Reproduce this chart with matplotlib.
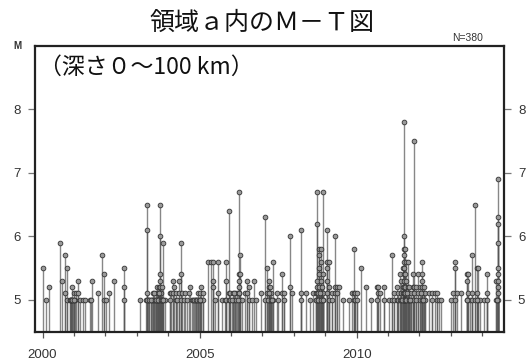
import matplotlib
matplotlib.use("Agg")
import matplotlib.pyplot as plt
import numpy as np

# ---- data: (decimal year, list of magnitudes on that stem) ----
stem_times = [
 2000.02, 2000.10, 2000.20, 2000.56, 2000.62, 2000.70, 2000.77, 2000.87, 2000.90, 2000.93,
 2000.96, 2000.99, 2001.03, 2001.06, 2001.13, 2001.20, 2001.30, 2001.36, 2001.50, 2001.54,
 2001.59, 2001.75, 2001.88, 2001.97, 2002.02, 2002.10, 2002.29, 2002.60, 2003.10, 2003.30,
 2003.33, 2003.36, 2003.40, 2003.44, 2003.48, 2003.52, 2003.56, 2003.60, 2003.63, 2003.66,
 2003.69, 2003.72, 2003.74, 2003.78, 2003.81, 2003.85, 2003.90, 2004.05, 2004.10, 2004.14,
 2004.18, 2004.24, 2004.28, 2004.33, 2004.40, 2004.45, 2004.50, 2004.55, 2004.60, 2004.65,
 2004.69, 2004.75, 2004.80, 2004.85, 2004.90, 2004.95, 2005.00, 2005.06, 2005.10, 2005.27,
 2005.36, 2005.43, 2005.50, 2005.57, 2005.70, 2005.80, 2005.84, 2005.93, 2005.98, 2006.05,
 2006.12, 2006.20, 2006.24, 2006.28, 2006.35, 2006.43, 2006.50, 2006.58, 2006.66, 2006.74,
 2006.80, 2006.94, 2007.09, 2007.15, 2007.20, 2007.24, 2007.28, 2007.34, 2007.45, 2007.50,
 2007.63, 2007.70, 2007.89, 2007.95, 2008.22, 2008.38, 2008.53, 2008.60, 2008.70, 2008.75,
 2008.80, 2008.85, 2008.90, 2008.94, 2009.06, 2009.12, 2009.20, 2009.31, 2009.36, 2009.45,
 2009.55, 2009.75, 2009.85, 2009.91, 2009.96, 2010.02, 2010.14, 2010.29, 2010.45, 2010.64,
 2010.68, 2010.75, 2010.88, 2011.04, 2011.11, 2011.20, 2011.27, 2011.32, 2011.37, 2011.42,
 2011.47, 2011.52, 2011.55, 2011.58, 2011.62, 2011.67, 2011.73, 2011.78, 2011.83, 2011.90,
 2011.96, 2012.03, 2012.08, 2012.13, 2012.18, 2012.30, 2012.40, 2012.48, 2012.55, 2012.62,
 2012.70, 2013.00, 2013.06, 2013.13, 2013.20, 2013.32, 2013.50, 2013.55, 2013.60, 2013.68,
 2013.77, 2013.82, 2013.87, 2013.93, 2014.06, 2014.16, 2014.42, 2014.50,
 # additional small events in the dense clusters
 2000.88, 2000.92, 2000.95, 2001.01, 2003.31, 2003.38, 2003.46, 2003.54, 2003.58, 2003.62,
 2003.68, 2003.70, 2003.76, 2003.80, 2003.83, 2004.82, 2004.87, 2004.92, 2004.97, 2005.02,
 2006.02, 2006.08, 2006.15, 2006.22, 2006.26, 2007.18, 2007.22, 2007.26, 2007.30, 2008.72,
 2008.77, 2008.78, 2008.82, 2008.87, 2008.92, 2011.44, 2011.50, 2011.53, 2011.56, 2011.60,
 2011.65, 2011.70, 2012.05, 2012.10, 2013.52, 2013.84, 2014.48,
]
stem_mags = [
 [5.5], [5.0], [5.2], [5.9], [5.3], [5.7, 5.1], [5.5, 5.0], [5.0], [5.0, 5.0], [5.2],
 [5.0], [5.0, 5.1], [5.0], [5.1], [5.3, 5.1], [5.0], [5.0], [5.0], [5.0], [5.0],
 [5.3], [5.1], [5.7], [5.4, 5.0], [5.0], [5.1], [5.3], [5.5, 5.2, 5.0], [5.0], [5.0],
 [6.5, 6.1, 5.1], [5.0], [5.0], [5.0], [5.0], [5.0, 5.1], [5.0], [5.0, 5.1], [5.2, 5.0], [5.0, 5.1],
 [5.1, 5.0], [5.2, 5.0], [6.5, 6.0, 5.4, 5.3, 5.2, 5.1], [5.1, 5.0], [5.0, 5.2], [5.9, 5.0], [5.0], [5.0, 5.1], [5.1], [5.3, 5.1],
 [5.2], [5.1, 5.0], [5.0], [5.3, 5.1], [5.9, 5.4, 5.0], [5.1], [5.0], [5.1], [5.0], [5.1],
 [5.2], [5.0], [5.0], [5.0], [5.0], [5.0, 5.1], [5.0, 5.1], [5.2, 5.0], [5.1, 5.0], [5.6],
 [5.6], [5.6, 5.3, 5.2], [5.0], [5.6, 5.1], [5.0], [5.0], [5.6, 5.3, 5.0], [6.4, 5.1, 5.0], [5.1, 5.0], [5.1, 5.0],
 [5.1, 5.0], [5.1], [6.7, 5.4, 5.3, 5.2, 5.1], [5.7, 5.4, 5.0], [5.0], [5.1], [5.3, 5.1], [5.2, 5.0], [5.0], [5.3],
 [5.0], [5.1], [6.3, 5.0], [5.5, 5.1], [5.3, 5.2, 5.1, 5.0], [5.2, 5.0], [5.1, 5.0], [5.6, 5.0], [5.1], [5.0],
 [5.4, 5.1], [5.0, 5.1], [6.0, 5.2], [5.1], [6.1, 5.1, 5.0], [5.1], [5.0], [5.1], [5.0, 5.1], [6.7, 6.2, 5.3, 5.2, 5.1, 5.0],
 [5.8, 5.7, 5.5, 5.4, 5.2, 5.0], [5.8, 5.6, 5.3, 5.1, 5.0], [5.2, 5.1, 5.0], [6.7, 5.4, 5.1, 5.0], [6.1, 5.6, 5.5, 5.3, 5.1], [5.6, 5.2, 5.0], [5.1, 5.0], [6.0, 5.2, 5.1], [5.2, 5.1], [5.2],
 [5.0], [5.0], [5.1], [5.8, 5.1, 5.0], [5.1, 5.0], [5.1, 5.0], [5.5], [5.2], [5.0], [5.2, 5.0],
 [5.2, 5.1], [5.1], [5.2, 5.0], [5.0], [5.7, 5.0], [5.1, 5.0], [5.2, 5.0], [5.1, 5.0], [5.4, 5.0], [5.3, 5.1, 5.0],
 [5.5, 5.2, 5.1, 5.0], [7.8, 6.0, 5.8, 5.7, 5.6, 5.5, 5.4, 5.3, 5.2, 5.1, 5.0, 5.0, 5.0], [5.8, 5.4, 5.2, 5.1, 5.0], [5.6, 5.3, 5.1, 5.0], [5.6, 5.2, 5.0], [5.2, 5.1, 5.0], [5.1, 5.0], [5.4, 5.2, 5.0], [7.5, 5.2, 5.1], [5.2, 5.0],
 [5.4, 5.1], [5.2, 5.0], [5.6, 5.4, 5.3, 5.2, 5.0], [5.2, 5.1], [5.1, 5.0], [5.1], [5.1, 5.0], [5.1], [5.1, 5.0], [5.0],
 [5.0], [5.0], [5.1], [5.6, 5.5, 5.0], [5.1], [5.1], [5.4, 5.3, 5.0], [5.4, 5.1], [5.0], [5.7, 5.1, 5.0],
 [6.5, 5.0], [5.5, 5.1], [5.5, 5.0], [5.0], [5.0], [5.4, 5.1, 5.0], [5.3, 5.0], [6.9, 6.3, 6.2, 5.9, 5.5, 5.4, 5.3, 5.2, 5.1, 5.0],
 [5.0], [5.0], [5.0], [5.0], [5.0], [5.0], [5.0], [5.1], [5.0], [5.0],
 [5.0], [5.1], [5.0], [5.0], [5.0], [5.0], [5.0], [5.0], [5.0], [5.0],
 [5.0], [5.1], [5.0], [5.0], [5.1], [5.0], [5.1], [5.0], [5.0], [5.0],
 [5.1, 5.0], [5.0], [5.1], [5.0], [5.0], [5.0], [5.1], [5.0, 5.1], [5.0], [5.1],
 [5.0], [5.0], [5.1], [5.0], [5.0], [5.0], [5.0],
]

title = "領域ａ内のＭ－Ｔ図"
subtitle = "（深さ０～100 km）"
count_label = "N=380"
y_ticks = [5, 6, 7, 8]
x_major = [2000, 2005, 2010]
x_minor = list(range(2000, 2015))

W, H = 529, 362
fig = plt.figure(figsize=(W / 100, H / 100), dpi=100)
L, R, T, B = 35, 504, 46, 331.5
ax = fig.add_axes([L / W, 1 - B / H, (R - L) / W, (B - T) / H])

base = 4.5
ev_t, ev_m = [], []
for t, ms in zip(stem_times, stem_mags):
    for m in ms:
        ev_t.append(t)
        ev_m.append(m)
ev_t = np.array(ev_t)
ev_m = np.array(ev_m)

ax.vlines(ev_t, base, ev_m, colors="#555555", linewidth=1.0, alpha=0.7, zorder=2)
ax.plot(ev_t, ev_m, linestyle="none", marker="o", markersize=3.4,
        markerfacecolor="#9a9a9a", markeredgecolor="#333333", markeredgewidth=0.6, zorder=3)

ax.set_xlim(1999.76, 2014.69)
ax.set_ylim(4.5, 9.0)

for s in ax.spines.values():
    s.set_linewidth(1.6)
    s.set_color("#222222")

ax.set_yticks(y_ticks)
ax.set_yticklabels([str(v) for v in y_ticks])
ax.tick_params(axis="y", which="major", direction="out", length=5, width=0.9,
               color="#777777", labelsize=9.5, labelcolor="#333333", pad=5,
               left=True, right=True, labelleft=True, labelright=True)
ax.set_xticks(x_major)
ax.set_xticklabels([str(v) for v in x_major])
ax.set_xticks(x_minor, minor=True)
ax.tick_params(axis="x", which="major", direction="out", length=4.5, width=0.9,
               color="#555555", labelsize=9.5, labelcolor="#333333", pad=8)
ax.tick_params(axis="x", which="minor", direction="out", length=3, width=0.9, color="#555555")
for lab in ax.get_yticklabels() + ax.get_xticklabels():
    lab.set_family("Liberation Sans")

fig.text(262 / W, 1 - 23 / H, title, ha="center", va="center", fontsize=18,
         family=["Noto Sans CJK JP", "DejaVu Sans"], color="#111111")
fig.text(39 / W, 1 - 67 / H, subtitle, ha="left", va="center", fontsize=16.5,
         family=["Noto Sans CJK JP", "DejaVu Sans"], color="#111111")
fig.text(483 / W, 1 - 38 / H, count_label, ha="right", va="center", fontsize=7.5,
         family="Liberation Sans", color="#333333")
fig.text(17 / W, 1 - 46 / H, "M", ha="center", va="center", fontsize=7,
         family="Liberation Sans", fontweight="bold", color="#333333")

fig.savefig("out.png", dpi=100)
